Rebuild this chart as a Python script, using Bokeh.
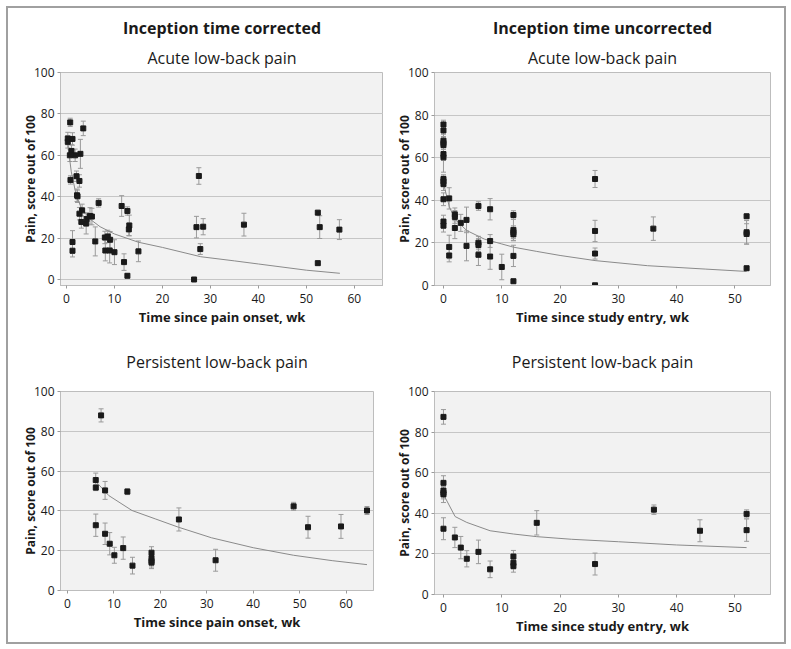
from bokeh.plotting import figure
from bokeh.models import Range1d, Whisker, ColumnDataSource, Title, FixedTicker, TeeHead, Spacer
from bokeh.layouts import row, column
from bokeh.embed import file_html
from bokeh.resources import INLINE

# ---------------- data ----------------
col_titles = ["Inception time corrected", "Inception time uncorrected"]
row_titles = ["Acute low-back pain", "Persistent low-back pain"]
x_labels = ["Time since pain onset, wk", "Time since study entry, wk"]
y_label = "Pain, score out of 100"
y_ticks = [0, 20, 40, 60, 80, 100]
x_ticks = [0, 10, 20, 30, 40, 50, 60]

# Panel 1: acute, inception corrected
p1_x = [0.77, 0.27, 0.27, 1.25, 3.5, 1.04, 0.7, 1.8, 2.9, 0.83, 2.08, 2.7, 2.2, 2.3,
        3.26, 2.7, 3.1, 4.1, 4.2, 4.9, 5.3, 6.7, 6.0, 1.25, 1.25, 8.0, 8.6, 9.1, 8.1,
        9.0, 10.0, 11.5, 12.7, 13.1, 13.0, 12.0, 12.7, 15.0, 27.6, 27.1, 28.5, 27.9,
        26.6, 37.0, 52.4, 52.8, 52.4, 56.9]
p1_y = [75.9, 68.1, 66.5, 67.9, 73.0, 62.1, 60.0, 60.0, 60.7, 48.1, 49.9, 47.6, 40.7, 40.2,
        33.4, 31.8, 27.8, 27.0, 29.2, 30.7, 30.4, 37.0, 18.4, 18.1, 13.9, 20.3, 20.8, 19.2, 14.0,
        14.0, 13.2, 35.5, 33.1, 26.1, 24.2, 8.4, 1.8, 13.6, 50.0, 25.3, 25.5, 14.7,
        0.0, 26.5, 32.3, 25.3, 7.9, 24.1]
p1_e = [2, 3, 3, 3, 3.5, 3, 3, 3, 7, 2, 2.5, 3, 3, 3,
        3, 3, 3, 5, 3, 4, 4, 2, 7, 5.5, 3, 3, 3, 4, 5,
        6, 6, 5, 2, 5, 3, 4, 1, 5, 4, 5.2, 3.9, 2.6,
        0.5, 5.5, 1, 5.5, 1, 4.8]
c1_x = [0.3, 0.5, 1.0, 2.0, 3.0, 5.0, 7.0, 10.0, 15.0, 20.0, 28.0, 35.0, 40.0, 50.0, 57.0]
c1_y = [66.0, 61.0, 52.0, 41.0, 35.0, 29.0, 25.5, 22.0, 18.0, 15.5, 11.0, 9.0, 7.5, 4.5, 3.0]

# Panel 2: acute, inception uncorrected
p2_x = [0, 0, 0, 0, 0, 0, 0, 0, 0, 0, 0, 0, 0,
        0.98, 0.98, 0.98, 1.95, 1.95, 1.95, 2.97, 3.95, 3.95,
        6, 6, 6, 6, 8, 8, 8, 10, 12, 12, 12, 12, 12, 12,
        26, 26, 26, 26, 36, 52, 52, 52, 52]
p2_y = [75.6, 72.8, 68.0, 66.9, 65.9, 61.7, 60.2, 50.0, 48.9, 47.6, 40.5, 30.0, 28.1,
        40.9, 18.1, 14.1, 33.4, 32.2, 27.0, 29.4, 30.8, 18.6,
        37.3, 20.1, 19.0, 14.4, 35.8, 20.9, 13.6, 8.7, 33.1, 26.1, 25.0, 24.0, 13.9, 2.0,
        50.0, 25.6, 15.0, 0.1, 26.7, 32.5, 25.0, 24.2, 8.1]
p2_e = [2, 3, 3, 3, 3, 3, 7, 2, 2.5, 3, 3, 3, 3,
        5, 5.5, 3, 3, 3, 5, 4, 6, 7,
        2, 3, 3, 5, 5, 3, 6, 6, 2, 5, 3, 3, 5, 1,
        4, 5, 2.6, 0.5, 5.5, 1, 5.5, 4.8, 1]
c2_x = [0.0, 1.0, 2.0, 4.0, 7.0, 10.0, 12.0, 16.0, 20.0, 26.0, 35.0, 45.0, 52.0]
c2_y = [48.0, 37.0, 31.0, 25.8, 21.8, 19.5, 18.0, 16.0, 14.1, 11.7, 9.3, 7.7, 6.6]

# Panel 3: persistent, inception corrected
p3_x = [7.24, 6.09, 6.1, 8.1, 12.9, 6.1, 8.1, 9.1, 10.1, 12.0, 14.0, 18.1, 18.1, 18.1,
        18.1, 24.0, 31.9, 48.7, 51.8, 58.9, 64.5]
p3_y = [88.0, 55.5, 51.7, 50.3, 49.7, 32.8, 28.5, 23.5, 17.7, 21.3, 12.5, 19.0, 16.3, 14.8,
        14.0, 35.7, 15.2, 42.3, 31.8, 32.2, 40.2]
p3_e = [3.3, 3.5, 1.5, 4.5, 1.5, 5.6, 5.4, 5.6, 4.0, 5.6, 4.2, 3, 3, 3,
        3, 5.8, 5.5, 2, 5.5, 6, 2]
c3_x = [6.3, 8.9, 13.9, 18.9, 23.9, 31.0, 40.0, 48.7, 57.0, 64.5]
c3_y = [54.3, 47.7, 40.2, 36.0, 31.8, 26.5, 21.5, 17.7, 15.0, 13.0]

# Panel 4: persistent, inception uncorrected
p4_x = [0, 0, 0, 0, 0, 0, 1.95, 2.97, 4, 6, 8, 12, 12, 12, 16, 26, 36.1, 44, 52, 52]
p4_y = [87.5, 55.0, 51.2, 50.1, 49.3, 32.4, 28.1, 23.1, 17.6, 21.0, 12.4, 18.7, 15.6, 14.0,
        35.3, 15.0, 41.8, 31.4, 39.7, 31.7]
p4_e = [3.6, 3.5, 3, 3, 4, 5.4, 5, 5.5, 4, 5.8, 4.1, 3, 3, 3, 6, 5.4, 2.3, 5.4, 2, 5.5]
c4_x = [0.0, 2.0, 4.0, 8.0, 12.0, 16.0, 22.0, 30.0, 40.0, 52.0]
c4_y = [49.3, 38.4, 35.5, 31.4, 29.8, 28.5, 27.2, 26.0, 24.4, 23.1]

# ---------------- styling ----------------
FONT = "Open Sans"
BG = "#f2f2f2"
GRID = "#c6c6c6"
EDGE = "#bdbdbd"
BAR = "#9a9a9a"
CURVE = "#8a8a8a"
MARK = "#1a1a1a"
TXT = "#1a1a1a"


def make_panel(fw, fh, mbl, mbr, mbt, mbb, xr, yr, xlabel, subtitle,
               xs, ys, es, cx, cy, main=None, sub_standoff=8):
    p = figure(frame_width=fw, frame_height=fh, x_range=Range1d(*xr), y_range=Range1d(*yr),
               output_backend="svg", toolbar_location=None,
               min_border_left=mbl, min_border_right=mbr,
               min_border_top=mbt, min_border_bottom=mbb)
    p.background_fill_color = BG
    p.border_fill_color = "white"
    p.outline_line_color = EDGE
    p.outline_line_width = 1

    sub_kw = dict(text_font=FONT, text_font_size="16px", text_font_style="normal",
                  text_color=TXT, align="center")
    if main is None:
        p.title.text = subtitle
        for k, v in sub_kw.items():
            setattr(p.title, k, v)
        p.title.standoff = sub_standoff
    else:
        p.title.text = main
        p.title.text_font = FONT
        p.title.text_font_size = "16px"
        p.title.text_font_style = "bold"
        p.title.text_color = TXT
        p.title.align = "center"
        p.title.standoff = 3
        p.add_layout(Title(text=subtitle, standoff=sub_standoff, **sub_kw), "above")

    p.xgrid.visible = False
    p.ygrid.grid_line_color = GRID
    p.ygrid.grid_line_width = 1
    p.ygrid.ticker = FixedTicker(ticks=y_ticks)

    for ax in (p.xaxis[0], p.yaxis[0]):
        ax.axis_line_color = EDGE
        ax.major_tick_line_color = BAR
        ax.major_tick_out = 3
        ax.major_tick_in = 0
        ax.minor_tick_line_color = None
        ax.major_label_text_font = FONT
        ax.major_label_text_font_size = "12px"
        ax.major_label_text_color = TXT
        ax.axis_label_text_font = FONT
        ax.axis_label_text_font_style = "bold"
        ax.axis_label_text_color = TXT
    p.xaxis.axis_label_text_font_size = "13px"
    p.yaxis.axis_label_text_font_size = "12px"
    p.xaxis.major_label_standoff = 5
    p.xaxis.axis_label_standoff = 2
    p.yaxis.major_label_standoff = 3
    p.yaxis.axis_label_standoff = -8
    p.xaxis.ticker = FixedTicker(ticks=x_ticks)
    p.yaxis.ticker = FixedTicker(ticks=y_ticks)
    p.xaxis.axis_label = xlabel
    p.yaxis.axis_label = y_label

    src = ColumnDataSource(dict(x=xs, y=ys,
                                lo=[a - b for a, b in zip(ys, es)],
                                hi=[a + b for a, b in zip(ys, es)]))
    w = Whisker(base="x", lower="lo", upper="hi", source=src,
                line_color=BAR, line_width=1,
                upper_head=TeeHead(size=5, line_color=BAR, line_width=1),
                lower_head=TeeHead(size=5, line_color=BAR, line_width=1))
    p.add_layout(w)
    p.line(cx, cy, line_color=CURVE, line_width=1)
    p.scatter("x", "y", source=src, marker="square", size=5,
              fill_color=MARK, line_color=MARK)
    return p


f1 = make_panel(323, 213, 52, 0, 64, 45, (-1.25, 66.1), (-2.9, 100), x_labels[0], row_titles[0],
                p1_x, p1_y, p1_e, c1_x, c1_y, main=col_titles[0])
f2 = make_panel(336, 213, 51, 14, 62, 47, (-1.54, 56.1), (0, 100), x_labels[1], row_titles[0],
                p2_x, p2_y, p2_e, c2_x, c2_y, main=col_titles[1])
f3 = make_panel(313, 199, 52, 10, 60, 52, (-1.5, 65.9), (0, 100), x_labels[0], row_titles[1],
                p3_x, p3_y, p3_e, c3_x, c3_y, sub_standoff=37)
f4 = make_panel(336, 203, 51, 14, 60, 48, (-1.54, 56.1), (0, 100), x_labels[1], row_titles[1],
                p4_x, p4_y, p4_e, c4_x, c4_y, sub_standoff=37)

inner = column(row(f1, f2), row(f3, f4),
               styles={"border": "2px solid #a0a0a0"})
layout = column(Spacer(height=6), row(Spacer(width=6), inner))

open("out.html", "w").write(file_html(layout, INLINE))
